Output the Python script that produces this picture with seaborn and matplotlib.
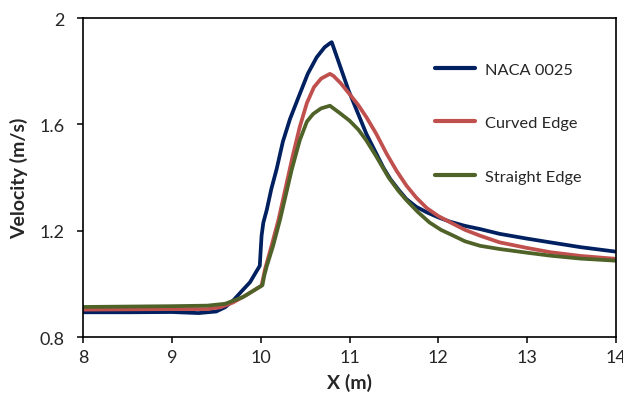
import numpy as np
import pandas as pd
import matplotlib
matplotlib.use('Agg')
import matplotlib.pyplot as plt
import seaborn as sns

# values
naca_x = [8, 8.5, 9.0, 9.3, 9.5, 9.6, 9.69, 9.78, 9.88, 9.99, 10.0, 10.01, 10.03, 10.07,
          10.12, 10.18, 10.25, 10.33, 10.44, 10.53, 10.63, 10.72, 10.78, 10.8, 10.82,
          10.99, 11.19, 11.38, 11.46, 11.55, 11.64, 11.75, 11.87, 12.0, 12.13, 12.3,
          12.47, 12.69, 13.0, 13.26, 13.6, 14.0]
naca_v = [0.893, 0.893, 0.894, 0.890, 0.896, 0.912, 0.937, 0.97, 1.006, 1.068, 1.125, 1.18, 1.23, 1.28,
          1.357, 1.432, 1.535, 1.62, 1.714, 1.79, 1.852, 1.89, 1.905, 1.909, 1.89,
          1.727, 1.564, 1.438, 1.394, 1.355, 1.319, 1.29, 1.269, 1.25, 1.234, 1.218,
          1.206, 1.188, 1.17, 1.156, 1.138, 1.121]

curved_x = [8, 9.0, 9.4, 9.55, 9.69, 9.85, 10.01, 10.05, 10.12, 10.2, 10.28, 10.36, 10.44,
            10.52, 10.6, 10.68, 10.78, 10.82, 10.9, 11.0, 11.1, 11.19, 11.3, 11.42, 11.53,
            11.64, 11.75, 11.87, 12.0, 12.17, 12.3, 12.47, 12.69, 13.0, 13.26, 13.6, 14.0]
curved_v = [0.903, 0.905, 0.905, 0.912, 0.93, 0.96, 0.993, 1.056, 1.14, 1.24, 1.36, 1.48, 1.59,
            1.68, 1.74, 1.772, 1.79, 1.782, 1.755, 1.714, 1.672, 1.627, 1.565, 1.488, 1.425,
            1.37, 1.325, 1.285, 1.255, 1.225, 1.203, 1.181, 1.156, 1.135, 1.119, 1.105, 1.094]

straight_x = [8, 9.0, 9.4, 9.6, 9.8, 10.02, 10.04, 10.07, 10.14, 10.22, 10.28, 10.35, 10.44,
              10.52, 10.59, 10.68, 10.78, 10.82, 10.9, 11.0, 11.1, 11.19, 11.3, 11.44, 11.55,
              11.64, 11.77, 11.9, 12.03, 12.17, 12.3, 12.47, 12.69, 13.0, 13.26, 13.6, 14.0]
straight_v = [0.913, 0.916, 0.918, 0.925, 0.95, 0.995, 1.03, 1.068, 1.143, 1.244, 1.33, 1.43, 1.54,
              1.61, 1.639, 1.66, 1.67, 1.66, 1.64, 1.614, 1.58, 1.539, 1.48, 1.40, 1.35,
              1.315, 1.27, 1.231, 1.203, 1.181, 1.16, 1.143, 1.131, 1.117, 1.106, 1.095, 1.087]

names = ['NACA 0025', 'Curved Edge', 'Straight Edge']
colors = ['#002060', '#C0504D', '#4F6228']
y_ticks = [0.8, 1.2, 1.6, 2.0]
y_tick_labels = ['0.8', '1.2', '1.6', '2']
x_ticks = [8, 9, 10, 11, 12, 13, 14]

df = pd.concat([
    pd.DataFrame({'x': naca_x, 'v': naca_v, 'case': names[0]}),
    pd.DataFrame({'x': curved_x, 'v': curved_v, 'case': names[1]}),
    pd.DataFrame({'x': straight_x, 'v': straight_v, 'case': names[2]}),
])

sns.set_style('ticks')
plt.rcParams['font.family'] = ['Lato', 'DejaVu Sans']

fig = plt.figure(figsize=(6.23, 4.02), dpi=100)
ax = fig.add_axes([0.1332, 0.1592, 0.8556, 0.7935])

sns.lineplot(data=df, x='x', y='v', hue='case', palette=colors,
             estimator=None, sort=False, linewidth=2.7, ax=ax)

ax.set_xlim(8, 14)
ax.set_ylim(0.8, 2.0)
ax.set_xticks(x_ticks)
ax.set_yticks(y_ticks)
ax.set_yticklabels(y_tick_labels)
ax.tick_params(axis='both', labelsize=13, length=4.5, width=1.1, color='black', direction='out')
ax.tick_params(axis='x', pad=4)
ax.tick_params(axis='y', pad=9)

for s in ax.spines.values():
    s.set_visible(True)
    s.set_color('black')
    s.set_linewidth(1.2)

ax.set_xlabel('X (m)', fontsize=14, fontweight='bold', labelpad=6)
ax.set_ylabel('Velocity (m/s)', fontsize=14, fontweight='bold', labelpad=8)

leg = ax.legend(loc='upper left', bbox_to_anchor=(0.633, 0.908), frameon=False,
                fontsize=11.8, labelspacing=2.38, handlelength=2.44, handletextpad=0.6)
for h in leg.get_lines():
    h.set_linewidth(3)

fig.savefig('out.png', dpi=100)
